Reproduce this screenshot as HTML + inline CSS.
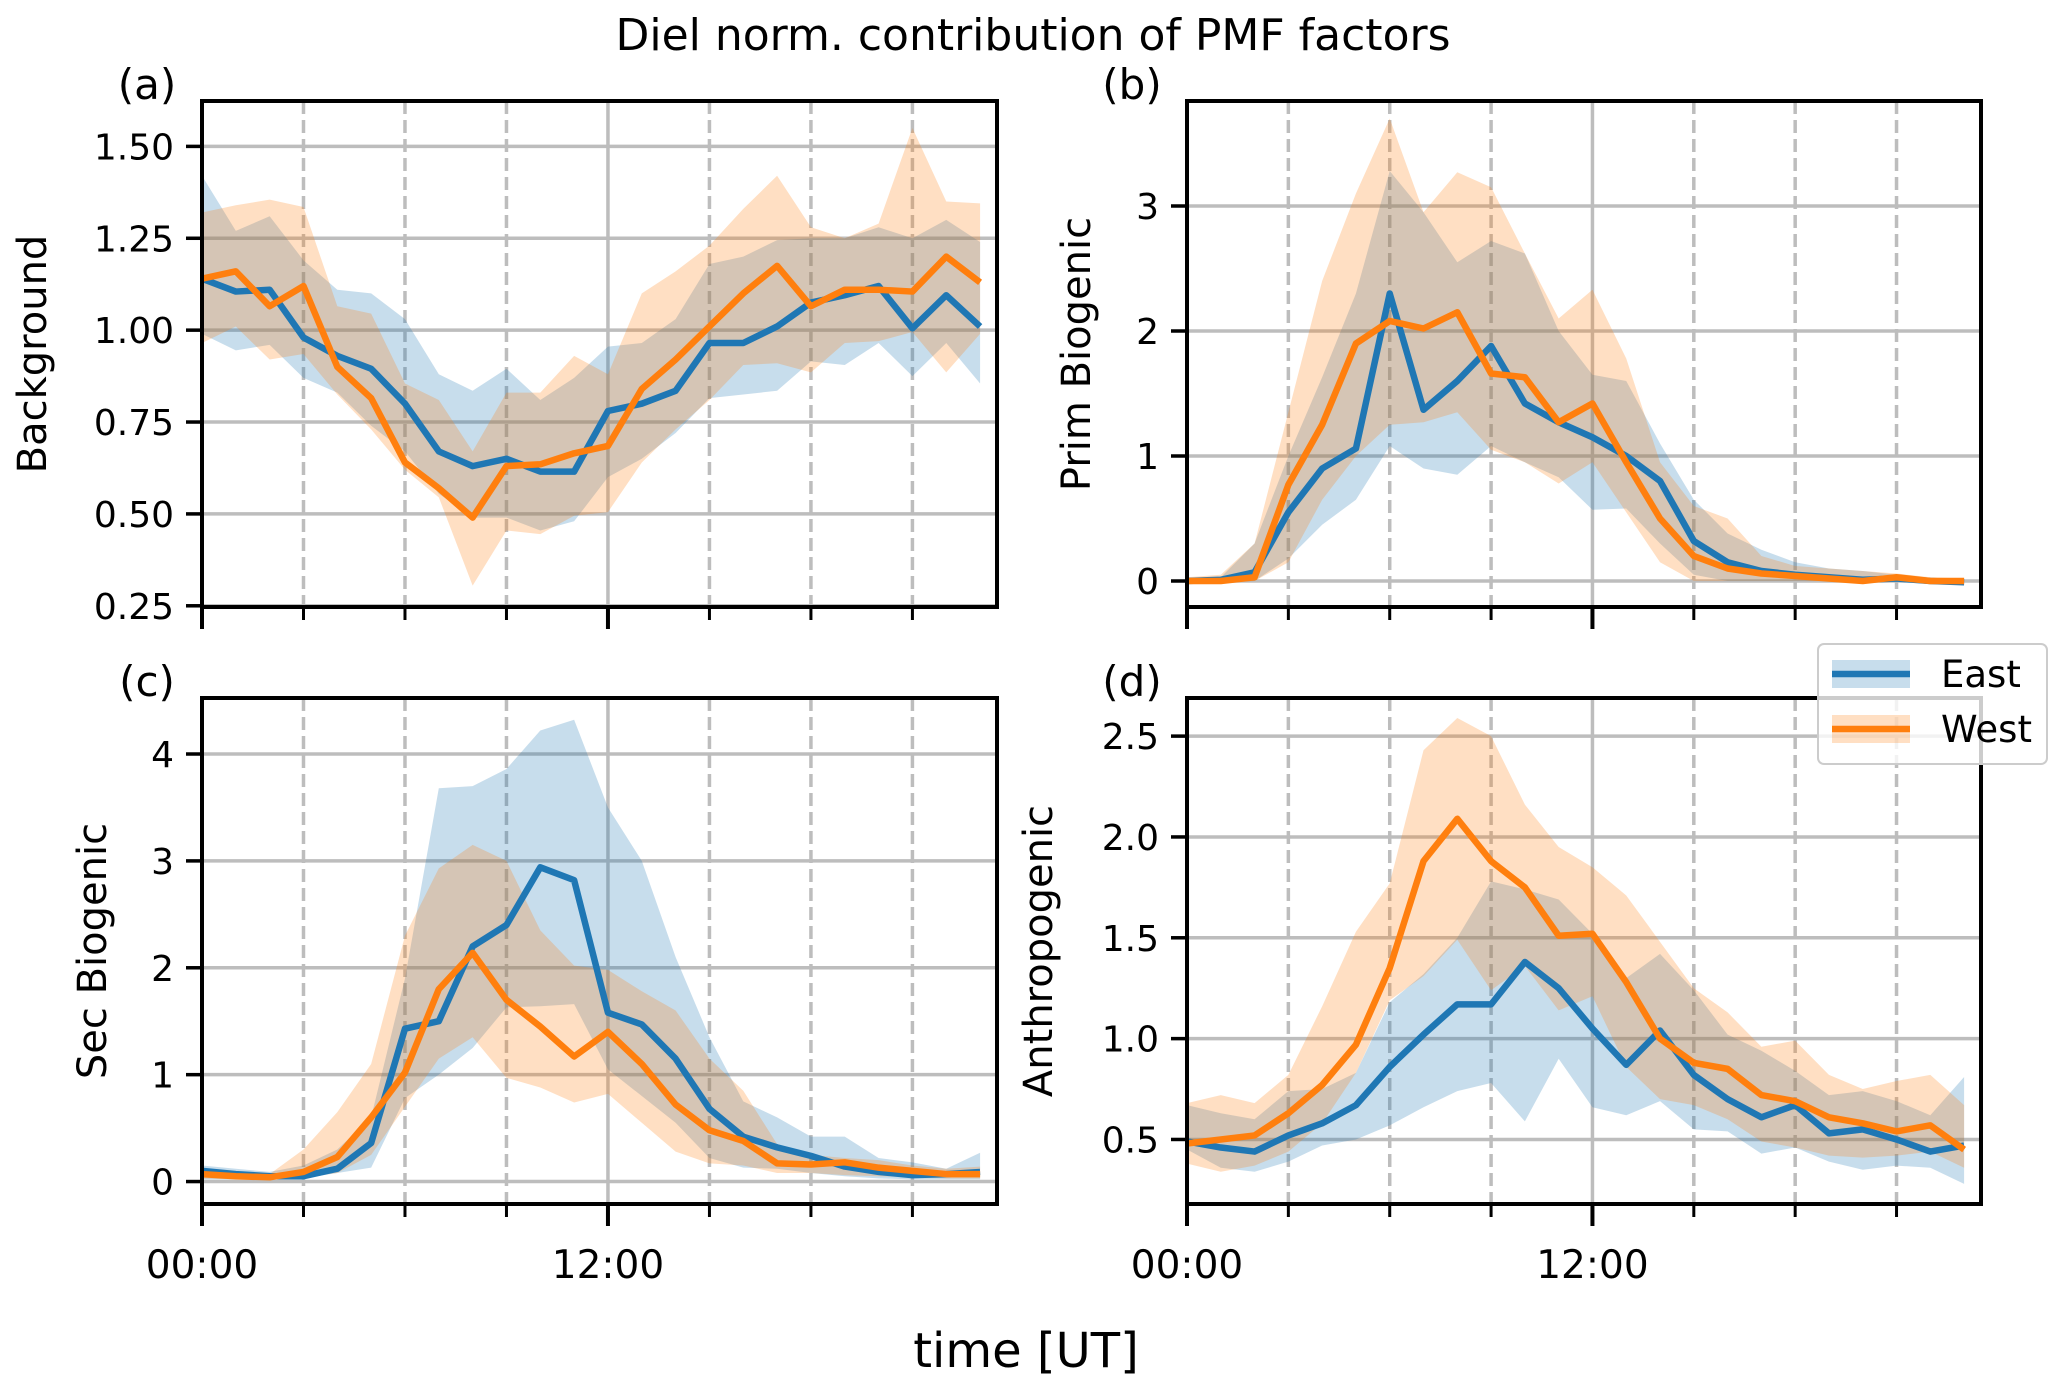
<!DOCTYPE html>
<html><head><meta charset="utf-8"><style>
html,body{margin:0;padding:0;background:#fff;}
svg{display:block;font-family:"DejaVu Sans","Liberation Sans",sans-serif;}
</style></head><body>
<svg id="fig" width="2067" height="1385" viewBox="0 0 2067 1385" xmlns="http://www.w3.org/2000/svg">
<text x="1033" y="50" font-size="44" text-anchor="middle">Diel norm. contribution of PMF factors</text>
<text x="1026" y="1367" font-size="48" text-anchor="middle">time [UT]</text>
</svg>
<script>
const hours = [0,1,2,3,4,5,6,7,8,9,10,11,12,13,14,15,16,17,18,19,20,21,22,23];
const xTickLabels = ["00:00","12:00"];
// (a) Background
const aEast = [1.14,1.105,1.11,0.98,0.93,0.895,0.80,0.67,0.63,0.65,0.615,0.615,0.78,0.80,0.835,0.965,0.965,1.01,1.075,1.095,1.12,1.005,1.095,1.01];
const aWest = [1.14,1.16,1.065,1.12,0.90,0.815,0.64,0.57,0.49,0.63,0.635,0.665,0.685,0.84,0.92,1.01,1.10,1.175,1.065,1.11,1.11,1.105,1.20,1.13];
const aEastHi = [1.42,1.27,1.31,1.19,1.11,1.10,1.03,0.88,0.835,0.895,0.81,0.87,0.955,0.965,1.03,1.18,1.20,1.245,1.25,1.25,1.28,1.25,1.30,1.24];
const aEastLo = [0.99,0.945,0.96,0.87,0.83,0.74,0.67,0.555,0.49,0.49,0.455,0.48,0.60,0.65,0.72,0.815,0.825,0.835,0.915,0.905,0.965,0.875,0.965,0.855];
const aWestHi = [1.32,1.34,1.355,1.335,1.065,1.045,0.855,0.81,0.67,0.83,0.83,0.93,0.88,1.10,1.16,1.23,1.33,1.42,1.28,1.25,1.29,1.55,1.35,1.345];
const aWestLo = [0.965,1.01,0.92,0.935,0.825,0.73,0.62,0.545,0.305,0.455,0.445,0.495,0.505,0.64,0.73,0.81,0.905,0.91,0.885,0.965,0.97,0.995,0.885,0.99];
const aTicks = [0.25,0.50,0.75,1.00,1.25,1.50];
// (b) Prim Biogenic
const bEast = [0,0.01,0.07,0.55,0.9,1.06,2.3,1.37,1.6,1.88,1.42,1.27,1.15,1.0,0.8,0.32,0.15,0.08,0.05,0.03,0.01,0.02,0.0,-0.01];
const bWest = [0,0.0,0.03,0.77,1.25,1.9,2.08,2.02,2.15,1.66,1.63,1.27,1.42,0.95,0.5,0.2,0.1,0.06,0.04,0.02,0.0,0.03,0.0,0.0];
const bEastHi = [0.02,0.03,0.3,1.0,1.63,2.3,3.28,2.95,2.55,2.72,2.62,2.0,1.65,1.6,1.1,0.65,0.38,0.25,0.15,0.1,0.08,0.05,0.02,0.02];
const bEastLo = [-0.02,-0.01,0.0,0.18,0.45,0.65,1.08,0.9,0.85,1.08,0.95,0.83,0.57,0.58,0.3,0.05,0,0,0,0,0,0,-0.02,-0.03];
const bWestHi = [0.03,0.05,0.3,1.35,2.4,3.1,3.7,2.95,3.27,3.15,2.62,2.1,2.33,1.78,0.95,0.6,0.5,0.2,0.12,0.1,0.08,0.06,0.03,0.02];
const bWestLo = [-0.01,-0.01,0.0,0.15,0.65,1.0,1.25,1.27,1.35,1.05,0.95,0.78,0.95,0.55,0.15,0.0,0,0,0,0,0,0,-0.01,-0.01];
const bTicks = [0,1,2,3];
// (c) Sec Biogenic
const cEast = [0.1,0.07,0.05,0.05,0.12,0.36,1.43,1.5,2.2,2.4,2.94,2.82,1.58,1.47,1.15,0.68,0.42,0.32,0.24,0.14,0.09,0.06,0.07,0.09];
const cWest = [0.07,0.05,0.04,0.09,0.23,0.6,1.02,1.8,2.14,1.7,1.45,1.17,1.4,1.1,0.72,0.48,0.38,0.17,0.16,0.18,0.13,0.1,0.07,0.07];
const cEastHi = [0.15,0.12,0.09,0.15,0.3,0.6,1.9,3.68,3.7,3.86,4.22,4.32,3.5,3.0,2.1,1.35,0.75,0.6,0.42,0.42,0.22,0.18,0.12,0.27];
const cEastLo = [0.02,0.02,0.02,0.03,0.08,0.13,0.78,1.0,1.25,1.63,1.64,1.66,1.05,0.8,0.55,0.22,0.13,0.12,0.08,0.05,0.03,0.02,0.02,0.02];
const cWestHi = [0.1,0.08,0.07,0.3,0.65,1.1,2.3,2.93,3.15,3.0,2.35,2.02,1.98,1.78,1.6,1.15,0.85,0.35,0.25,0.22,0.2,0.15,0.12,0.14];
const cWestLo = [0.03,0.02,0.02,0.04,0.08,0.25,0.7,1.15,1.35,0.97,0.88,0.74,0.82,0.55,0.28,0.17,0.15,0.08,0.08,0.06,0.05,0.04,0.03,0.03];
const cTicks = [0,1,2,3,4];
// (d) Anthropogenic
const dEast = [0.49,0.46,0.44,0.52,0.58,0.67,0.86,1.02,1.17,1.17,1.38,1.25,1.05,0.87,1.04,0.82,0.7,0.61,0.67,0.53,0.55,0.5,0.44,0.47];
const dWest = [0.48,0.50,0.52,0.63,0.77,0.97,1.35,1.88,2.09,1.88,1.75,1.51,1.52,1.28,1.0,0.88,0.85,0.72,0.69,0.61,0.58,0.54,0.57,0.45];
const dEastHi = [0.67,0.63,0.6,0.74,0.75,0.83,1.18,1.32,1.5,1.78,1.74,1.69,1.52,1.3,1.42,1.24,1.02,0.94,0.84,0.72,0.74,0.69,0.62,0.81];
const dEastLo = [0.45,0.36,0.34,0.39,0.47,0.5,0.57,0.66,0.74,0.78,0.59,0.9,0.66,0.62,0.69,0.55,0.54,0.43,0.46,0.39,0.35,0.37,0.36,0.28];
const dWestHi = [0.68,0.72,0.68,0.82,1.16,1.53,1.77,2.43,2.59,2.5,2.16,1.95,1.85,1.71,1.48,1.25,1.13,0.96,0.99,0.82,0.75,0.79,0.82,0.67];
const dWestLo = [0.38,0.34,0.37,0.44,0.58,0.83,1.19,1.31,1.49,1.24,1.36,1.14,1.21,0.86,0.7,0.67,0.6,0.49,0.46,0.42,0.41,0.42,0.44,0.36];
const dTicks = [0.5,1.0,1.5,2.0,2.5];

const NS = "http://www.w3.org/2000/svg";
const svg = document.getElementById('fig');
const BLUE = "#1f77b4", ORANGE = "#ff7f0e";
function mk(tag, attrs, parent) {
  const e = document.createElementNS(NS, tag);
  for (const k in attrs) e.setAttribute(k, attrs[k]);
  (parent || svg).appendChild(e);
  return e;
}
function panel(cfg) {
  const g = mk('g', {});
  
  
  const {L, R, T, B, ymin, ymax} = cfg;
  const sx = h => L + (h / 23.5) * (R - L);
  const sy = v => B - (v - ymin) / (ymax - ymin) * (B - T);
  for (const v of cfg.ticks) {
    const ln = mk('line', {x1: L, x2: R, y1: sy(v), y2: sy(v), stroke: '#bdbdbd', 'stroke-width': 3.5}, g);
    
    
  }
  for (let h = 3; h < 24; h += 3) {
    const major = (h % 12 === 0);
    const ln = mk('line', {x1: sx(h), x2: sx(h), y1: T, y2: B, stroke: '#bdbdbd', 'stroke-width': 3.5, 'stroke-dasharray': major ? '' : '13,6'}, g);
    
    
  }
  const band = (hi, lo, col, name) => {
    let d = hours.map((h, i) => (i ? 'L' : 'M') + sx(h) + ',' + sy(hi[i])).join('');
    for (let i = hours.length - 1; i >= 0; i--) d += 'L' + sx(hours[i]) + ',' + sy(lo[i]);
    const p = mk('path', {d: d + 'Z', fill: col, 'fill-opacity': 0.25, stroke: 'none'}, g);
    
    
  };
  band(cfg.eHi, cfg.eLo, BLUE, 'east-band');
  band(cfg.wHi, cfg.wLo, ORANGE, 'west-band');
  const line = (vals, col, name) => {
    const pts = hours.map((h, i) => sx(h) + ',' + sy(vals[i])).join(' ');
    const p = mk('polyline', {points: pts, fill: 'none', stroke: col, 'stroke-width': 6.5, 'stroke-linejoin': 'round'}, g);
    
    
  };
  line(cfg.east, BLUE, 'east-line');
  line(cfg.west, ORANGE, 'west-line');
  const sp = mk('rect', {x: L, y: T, width: R - L, height: B - T, fill: 'none', stroke: '#000', 'stroke-width': 4}, g);
  
  
  for (const v of cfg.ticks) {
    const tk = mk('line', {x1: L - 16, x2: L, y1: sy(v), y2: sy(v), stroke: '#000', 'stroke-width': 3.5}, g);
    
    
    const t = mk('text', {x: L - 28, y: sy(v) + 13, 'font-size': 36, 'text-anchor': 'end'}, g);
    
    
    t.textContent = cfg.fmt(v);
  }
  for (let h = 0; h < 24; h += 3) {
    const major = (h % 12 === 0);
    const tk = mk('line', {x1: sx(h), x2: sx(h), y1: B, y2: B + (major ? 22 : 13), stroke: '#000', 'stroke-width': major ? 4 : 3}, g);
    
    
    if (major && cfg.xlabels) {
      const t = mk('text', {x: sx(h), y: B + 74, 'font-size': 39, 'text-anchor': 'middle'}, g);
      
      
      t.textContent = xTickLabels[h / 12];
    }
  }
  const yl = mk('text', {x: cfg.ylx, y: (T + B) / 2, 'font-size': 40, 'text-anchor': 'middle', transform: `rotate(-90 ${cfg.ylx} ${(T + B) / 2})`}, g);
  
  
  yl.textContent = cfg.ylabel;
  const pl = mk('text', {x: L - 55, y: T - 2, 'font-size': 42, 'text-anchor': 'middle'}, g);
  
  
  pl.textContent = '(' + cfg.key + ')';
}
const f2 = v => v.toFixed(2), f0 = v => v.toFixed(0), f1 = v => v.toFixed(1);
panel({key:'a', L:202, R:997, T:101, B:607, ymin:0.2467, ymax:1.6235, ticks:aTicks, fmt:f2, east:aEast, west:aWest, eHi:aEastHi, eLo:aEastLo, wHi:aWestHi, wLo:aWestLo, ylabel:'Background', ylx:46, xlabels:false});
panel({key:'b', L:1187, R:1981, T:101, B:607, ymin:-0.208, ymax:3.84, ticks:bTicks, fmt:f0, east:bEast, west:bWest, eHi:bEastHi, eLo:bEastLo, wHi:bWestHi, wLo:bWestLo, ylabel:'Prim Biogenic', ylx:1090, xlabels:false});
panel({key:'c', L:202, R:997, T:698, B:1204, ymin:-0.21, ymax:4.524, ticks:cTicks, fmt:f0, east:cEast, west:cWest, eHi:cEastHi, eLo:cEastLo, wHi:cWestHi, wLo:cWestLo, ylabel:'Sec Biogenic', ylx:106, xlabels:true});
panel({key:'d', L:1187, R:1981, T:698, B:1204, ymin:0.18, ymax:2.689, ticks:dTicks, fmt:f1, east:dEast, west:dWest, eHi:dEastHi, eLo:dEastLo, wHi:dWestHi, wLo:dWestLo, ylabel:'Anthropogenic', ylx:1052, xlabels:true});

const lg = mk('g', {});


const box = mk('rect', {x: 1818, y: 644, width: 229, height: 120, rx: 6, fill: '#fff', 'fill-opacity': 0.8, stroke: '#cccccc', 'stroke-width': 2}, lg);


[['East', BLUE, 0], ['West', ORANGE, 1]].forEach(([name, col, i]) => {
  const y = 674 + i * 55;
  const e = mk('g', {}, lg);
  
  
  mk('rect', {x: 1832, y: y - 14, width: 78, height: 28, fill: col, 'fill-opacity': 0.25}, e);
  mk('line', {x1: 1832, x2: 1910, y1: y, y2: y, stroke: col, 'stroke-width': 6.5}, e);
  const t = mk('text', {x: 1941, y: y + 13, 'font-size': 37}, e);
  t.textContent = name;
});
</script>
</body></html>
